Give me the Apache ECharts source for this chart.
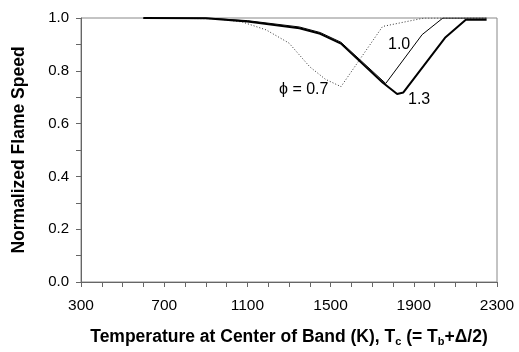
<!DOCTYPE html>
<html>
<head>
<meta charset="utf-8">
<script src="https://cdn.jsdelivr.net/npm/echarts@6/dist/echarts.min.js"></script>
<style>
  html, body { margin: 0; padding: 0; background: #fff; }
  #chart { width: 519px; height: 352px; }
</style>
</head>
<body>
<div id="chart"></div>
<script>
// values: [temperature K, normalized flame speed]
const phi07 = [
  [600, 1.0], [950, 0.997], [1075, 0.985], [1190, 0.955], [1300, 0.905],
  [1400, 0.815], [1475, 0.768], [1550, 0.74], [1750, 0.968], [1950, 1.0], [2250, 1.0]
]
const phi10 = [
  [600, 1.0], [900, 1.0], [1100, 0.99], [1350, 0.966], [1450, 0.945],
  [1550, 0.908], [1765, 0.752], [1940, 0.937], [2040, 1.0], [2250, 1.0]
]
const phi13 = [
  [600, 1.0], [900, 0.999], [1100, 0.987], [1350, 0.961], [1450, 0.94],
  [1550, 0.903], [1750, 0.756], [1820, 0.712], [1850, 0.718], [2050, 0.925],
  [2150, 0.993], [2250, 0.993]
]

const font = '"Liberation Sans", Arial, sans-serif'

const chart = echarts.init(document.getElementById('chart'))

const axisLine = { show: true, lineStyle: { color: '#666', width: 1 } }

chart.setOption({
  animation: false,
  grid: {
    left: 81, right: 22, top: 18, bottom: 65,
    show: true, borderColor: '#888', borderWidth: 1
  },
  xAxis: {
    type: 'value',
    min: 300, max: 2300, interval: 400,
    axisLine: axisLine,
    axisTick: { show: true, length: 5, lineStyle: { color: '#666' } },
    minorTick: { show: true, splitNumber: 4, length: 5, lineStyle: { color: '#666' } },
    splitLine: { show: false },
    axisLabel: {
      color: '#000', fontSize: 15.5, fontFamily: font, margin: 16,
      formatter: (v) => String(v)
    },
    name: '{b|Temperature at Center of Band (K), T}{s|c}{b| (= T}{s|b}{b|+\u0394/2)}',
    nameLocation: 'middle',
    nameGap: 45,
    nameTextStyle: {
      rich: {
        b: { fontSize: 17.5, fontWeight: 'bold', fontFamily: font, color: '#000' },
        s: { fontSize: 11, fontWeight: 'bold', fontFamily: font, color: '#000', verticalAlign: 'bottom', padding: [9, 0, 0, 0] }
      }
    }
  },
  yAxis: {
    type: 'value',
    min: 0, max: 1, interval: 0.2,
    axisLine: axisLine,
    axisTick: { show: true, length: 5, lineStyle: { color: '#666' } },
    minorTick: { show: true, splitNumber: 2, length: 5, lineStyle: { color: '#666' } },
    splitLine: { show: false },
    axisLabel: {
      color: '#000', fontSize: 15, fontFamily: font, margin: 12,
      formatter: (v) => v.toFixed(1)
    },
    name: 'Normalized Flame Speed',
    nameLocation: 'middle',
    nameGap: 53,
    nameTextStyle: { fontSize: 17.5, fontWeight: 'bold', fontFamily: font, color: '#000' }
  },
  series: [
    {
      type: 'line', data: phi07, symbol: 'none',
      lineStyle: { color: '#333', width: 1, type: [1, 2] }
    },
    {
      type: 'line', data: phi10, symbol: 'none',
      lineStyle: { color: '#000', width: 1 }
    },
    {
      type: 'line', data: phi13, symbol: 'none',
      lineStyle: { color: '#000', width: 2 }
    }
  ],
  graphic: [
    { type: 'text', left: 279, top: 82, style: { text: '\u03d5 = 0.7', fontSize: 16, fontFamily: font, fill: '#000' } },
    { type: 'text', left: 388, top: 37, style: { text: '1.0', fontSize: 16, fontFamily: font, fill: '#000' } },
    { type: 'text', left: 408, top: 92, style: { text: '1.3', fontSize: 16, fontFamily: font, fill: '#000' } }
  ]
})
</script>
</body>
</html>
